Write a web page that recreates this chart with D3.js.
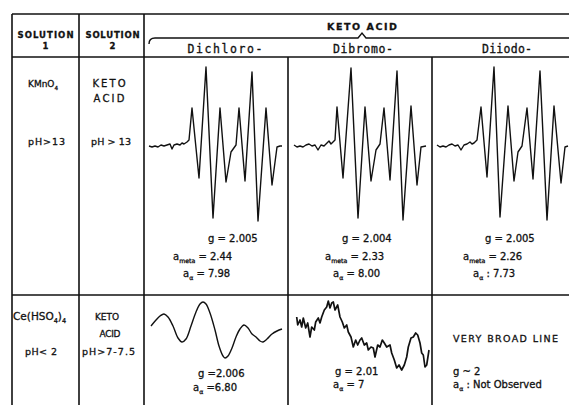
<!DOCTYPE html>
<html>
<head>
<meta charset="utf-8">
<script src="https://cdn.jsdelivr.net/npm/d3@7"></script>
<style>
body { margin: 0; background: #fff; }
svg text { font-family: 'DejaVu Sans', sans-serif; fill: #111; stroke: #111; stroke-width: 0.3; }
svg text.acid { font-family: 'DejaVu Sans Mono', monospace; }
</style>
</head>
<body>
<svg id="chart"></svg>
<script>
const w = 569, h = 405;

// table text
const solutionHeads = ['SOLUTION', 'SOLUTION'];
const solutionNums = ['1', '2'];
const groupTitle = 'KETO ACID';
const acidNames = ['Dichloro-', 'Dibromo-', 'Diiodo-'];
const solution1 = [[['KMnO', 0], ['4', 1]], [['Ce(HSO', 0], ['4', 1], [')', 0], ['4', 1]]];
const solution1pH = ['pH>13', 'pH< 2'];
const solution2 = [['KETO', 'ACID'], ['KETO', 'ACID']];
const solution2pH = ['pH > 13', 'pH>7-7.5'];
const gValues = [['= 2.005', '= 2.004', '= 2.005'], ['=2.006', '= 2.01', '~ 2']];
const aMeta = ['= 2.44', '= 2.33', '= 2.26'];
const aAlpha = [['= 7.98', '= 8.00', ': 7.73'], ['=6.80', '= 7', ': Not Observed']];
const broadNote = 'VERY BROAD LINE';

// spectra: [field, signal]
const dichloroMn = [[5,0],[8,-1],[11,0],[14,-1],[17,1],[20,0],[23,1],[26,2],[28,-3],[30,1],[33,2],[36,1],[38,3],[40,2],[43,4],[45,6],[48,38],[55,-32],[62,79],[69,-72],[76,38],[82,-36],[87,-6],[92,1],[95,38],[101,-35],[108,74],[114,-75],[122,38],[128,-39],[133,-1],[136,0],[138,0]];
const dibromoMn = [[6,1],[9,-1],[12,0],[15,-1],[18,1],[21,2],[24,0],[27,1],[30,-4],[33,1],[36,0],[39,3],[41,5],[43,2],[45,4],[47,6],[49,39],[55,-32],[63,78],[70,-72],[77,39],[83,-35],[88,-4],[92,2],[96,38],[102,-34],[109,75],[115,-74],[123,40],[129,-39],[133,-1],[138,0]];
const diiodoMn = [[5,1],[8,-1],[11,0],[14,-1],[17,1],[20,2],[23,0],[26,1],[29,-4],[32,1],[35,2],[38,4],[40,2],[42,3],[45,6],[49,39],[55,-31],[62,79],[68,-71],[76,40],[82,-35],[86,-6],[90,0],[95,38],[101,-33],[108,75],[115,-74],[122,40],[129,-37],[133,-1],[136,0]];
const dichloroCe = [[7,4],[12,10],[16,14],[20,16],[24,13],[29,4],[34,-8],[38,-12],[42,-9],[47,4],[52,18],[56,26],[59,28],[62,26],[66,17],[71,0],[75,-16],[79,-26],[81,-28],[84,-26],[88,-18],[92,-7],[96,1],[100,5],[104,2],[108,-4],[112,-7],[116,-11],[119,-12],[123,-9],[128,-4],[133,-1],[138,1]];
const dibromoCe = [[8.7,13],[9.7,5],[12,10],[13.7,3],[15.3,12],[17.7,2],[19.7,7],[22,-7],[23.7,3],[26.3,0],[27.7,8],[30.3,12],[32,7],[33.7,13],[36.3,20],[38.7,23],[40.3,29],[42,22],[43.7,27],[45.3,28],[47,20],[49.7,25],[52,13],[54.3,8],[56.3,2],[58.7,5],[60.3,-2],[63,-7],[65.3,-17],[67.7,-10],[69.7,-15],[72,-10],[73.7,-8],[76.3,-15],[78.7,-13],[80.3,-20],[83,-17],[85.3,-18],[87,-27],[89.7,-15],[92,-17],[94.3,-10],[96.3,-13],[98.7,-17],[102,-15],[103.7,-23],[106.3,-30],[108.7,-38],[111,-35],[113.7,-40],[116.3,-35],[118.7,-27],[120.3,-17],[123,-8],[125.3,-7],[127.7,-3],[129.7,-5],[132,-13],[133.7,-23],[135.3,-25],[137,-37],[138.7,-35],[141,-20]];

const colX = [12, 79, 144, 288, 432, 569];
const topY = 14, bracketY = 38, subY = 57, rowY = 295;

const chart = d3.select('#chart').attr('width', w).attr('height', h);

const rule = (x1, y1, x2, y2) => chart.append('line')
    .attr('x1', x1).attr('y1', y1).attr('x2', x2).attr('y2', y2)
    .attr('stroke', '#111').attr('stroke-width', 1.6);

// grid
rule(colX[0], topY, w, topY);
rule(colX[0], subY, w, subY);
rule(colX[0], rowY, w, rowY);
[0, 1, 2].forEach(i => rule(colX[i], topY, colX[i], h));
[3, 4].forEach(i => rule(colX[i], subY, colX[i], h));

// bracket over acid names
chart.append('path')
    .attr('d', `M149,44 Q149,${bracketY} 155,${bracketY} L358,${bracketY} L362,33 L366,${bracketY} L${w},${bracketY}`)
    .attr('fill', 'none').attr('stroke', '#111').attr('stroke-width', 1.4);

const label = (x, y, parts, size, anchor, len, bold) => {
    const t = chart.append('text').attr('x', x).attr('y', y)
        .attr('font-size', size).attr('text-anchor', anchor || 'start')
        .attr('font-weight', bold ? 'bold' : 'normal');
    if (typeof parts === 'string') parts = [[parts, 0]];
    let prev = 0;
    parts.forEach(([s, sub]) => {
        t.append('tspan').text(s)
            .attr('font-size', sub ? size * 0.62 : size)
            .attr('dy', sub === prev ? 0 : (sub ? 3 : -3));
        prev = sub;
    });
    if (len) t.attr('textLength', len).attr('lengthAdjust', 'spacing');
    return t;
};

// headers
solutionHeads.forEach((s, i) => {
    const cx = (colX[i] + colX[i + 1]) / 2 + (i ? 1 : 0);
    label(cx, 38, s, 8.5, 'middle', i ? 54 : 56, true);
    label(cx, 49, solutionNums[i], 8.5, 'middle', null, true);
});
label(362, 30, groupTitle, 9.5, 'middle', 70, true);
const nameX = [225, 363, 507], nameW = [75, 60, 50];
acidNames.forEach((s, i) => label(nameX[i], 53, s, 11.5, 'middle', nameW[i]).attr('class', 'acid'));

// solution columns
solution1.forEach((p, r) => label(r ? 13 : 28, r ? 320 : 87, p, r ? 10.5 : 9));
solution1pH.forEach((s, r) => label(r ? 25 : 28, r ? 355 : 145, s, 9.5, 'start', r ? 32 : 37));
solution2.forEach((p, r) => {
    label(r ? 107 : 109, r ? 320 : 87, p[0], r ? 9 : 10, 'middle', r ? 24 : 33);
    label(r ? 110 : 109, r ? 337 : 102, p[1], r ? 9 : 10, 'middle', r ? 21 : 31);
});
solution2pH.forEach((s, r) => label(r ? 82 : 91, r ? 355 : 145, s, 9.5, 'start', r ? 53 : 40));

// parameters, row 1
const gX = [208, 342, 485], mX = [173, 325, 463], aX = [183, 333, 473];
gValues[0].forEach((s, i) => label(gX[i], 242, 'g ' + s, 10));
aMeta.forEach((s, i) => label(mX[i], 260, [['a', 0], ['meta', 1], [' ' + s, 0]], 10));
aAlpha[0].forEach((s, i) => label(aX[i], 277, [['a', 0], ['α', 1], [' ' + s, 0]], 10));

// parameters, row 2
const g2X = [198, 335, 453], g2Y = [377, 375, 375], a2X = [193, 333, 453], a2Y = [391, 388, 388];
gValues[1].forEach((s, i) => label(g2X[i], g2Y[i], 'g ' + s, 10));
aAlpha[1].forEach((s, i) => label(a2X[i], a2Y[i], [['a', 0], ['α', 1], [' ' + s, 0]], 10));
label(453, 342, broadNote, 9.5, 'start', 105);

// spectra
const drawSpectrum = (data, col, base, curve, sw) => {
    const x = d3.scaleLinear().domain([0, 144]).range([colX[col], colX[col] + 144]);
    const y = d3.scaleLinear().domain([-100, 100]).range([base + 100, base - 100]);
    chart.append('path').datum(data)
        .attr('d', d3.line().x(d => x(d[0])).y(d => y(d[1])).curve(curve)(data))
        .attr('fill', 'none').attr('stroke', '#111')
        .attr('stroke-width', sw).attr('stroke-linejoin', 'round');
};
drawSpectrum(dichloroMn, 2, 146, d3.curveLinear, 1.4);
drawSpectrum(dibromoMn, 3, 146, d3.curveLinear, 1.4);
drawSpectrum(diiodoMn, 4, 146, d3.curveLinear, 1.4);
drawSpectrum(dichloroCe, 2, 330, d3.curveCatmullRom, 1.4);
drawSpectrum(dibromoCe, 3, 330, d3.curveLinear, 1.7);
</script>
</body>
</html>
